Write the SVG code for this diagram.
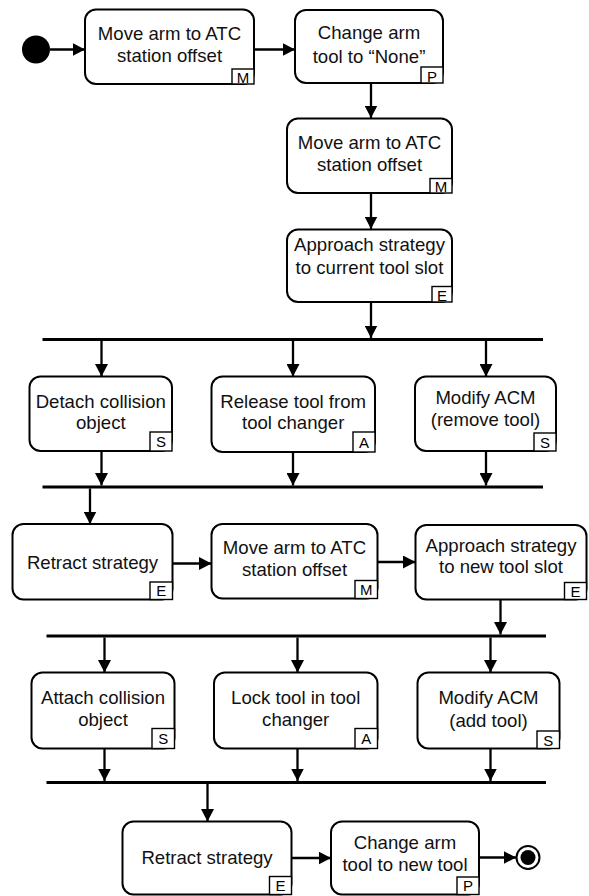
<svg xmlns="http://www.w3.org/2000/svg" width="589" height="896" viewBox="0 0 589 896">
  <style>
    .box { fill: #fff; stroke: #000; stroke-width: 2; }
    .badge { fill: #fff; stroke: #000; stroke-width: 1.4; }
    .lbl { font-family: "Liberation Sans", Arial, sans-serif; font-size: 18.6px; fill: #111; text-anchor: middle; }
    .tag { font-family: "Liberation Sans", Arial, sans-serif; font-size: 15px; fill: #000; text-anchor: middle; }
    .flow { stroke: #000; stroke-width: 2.3; fill: none; marker-end: url(#head); }
    .bar { stroke: #000; stroke-width: 3; }
  </style>
  <defs>
    <marker id="head" markerUnits="userSpaceOnUse" markerWidth="13" markerHeight="13" refX="12.5" refY="6.5" orient="auto">
      <path d="M0,0 L12.5,6.5 L0,13 z" fill="#000"/>
    </marker>
  </defs>

  <rect width="589" height="896" fill="#fff"/>

  <!-- connectors -->
  <g id="connectors">
    <line class="bar" x1="42.5" y1="339.5" x2="543" y2="339.5"/>
    <line class="bar" x1="42.5" y1="487" x2="543" y2="487"/>
    <line class="bar" x1="46.5" y1="636" x2="546" y2="636"/>
    <line class="bar" x1="46.5" y1="782.5" x2="546" y2="782.5"/>

    <line class="flow" x1="50" y1="49.5" x2="85" y2="49.5"/>
    <line class="flow" x1="254" y1="49.5" x2="295" y2="49.5"/>
    <line class="flow" x1="371" y1="83" x2="371" y2="118"/>
    <line class="flow" x1="371" y1="193" x2="371" y2="229"/>
    <line class="flow" x1="371" y1="302" x2="371" y2="338"/>

    <line class="flow" x1="101.5" y1="341" x2="101.5" y2="376.5"/>
    <line class="flow" x1="293" y1="341" x2="293" y2="376.5"/>
    <line class="flow" x1="486" y1="341" x2="486" y2="376.5"/>

    <line class="flow" x1="101.5" y1="451" x2="101.5" y2="485.5"/>
    <line class="flow" x1="293" y1="452" x2="293" y2="485.5"/>
    <line class="flow" x1="486" y1="451" x2="486" y2="485.5"/>

    <line class="flow" x1="90" y1="488.5" x2="90" y2="524"/>
    <line class="flow" x1="172.5" y1="563.5" x2="211.5" y2="563.5"/>
    <line class="flow" x1="377.5" y1="562" x2="415.5" y2="562"/>
    <line class="flow" x1="500.5" y1="599.5" x2="500.5" y2="634.5"/>

    <line class="flow" x1="104.5" y1="637.5" x2="104.5" y2="672.5"/>
    <line class="flow" x1="297.5" y1="637.5" x2="297.5" y2="672.5"/>
    <line class="flow" x1="490.5" y1="637.5" x2="490.5" y2="672.5"/>

    <line class="flow" x1="104.5" y1="748.5" x2="104.5" y2="781"/>
    <line class="flow" x1="297.5" y1="748.5" x2="297.5" y2="781"/>
    <line class="flow" x1="490.5" y1="748.5" x2="490.5" y2="781"/>

    <line class="flow" x1="207.5" y1="784" x2="207.5" y2="821.5"/>
    <line class="flow" x1="291.5" y1="858" x2="331" y2="858"/>
    <line class="flow" x1="479" y1="857.5" x2="516" y2="857.5"/>
  </g>

  <!-- start / end -->
  <g id="start"><circle cx="36" cy="49.5" r="14" fill="#000"/></g>
  <g id="end">
    <circle cx="528" cy="857.5" r="11.5" fill="#fff" stroke="#000" stroke-width="2"/>
    <circle cx="528" cy="857.5" r="7.5" fill="#000"/>
  </g>

  <!-- actions -->
  <g id="n1">
    <rect class="box" x="85" y="9.5" width="169" height="74.5" rx="11"/>
    <text class="lbl" x="169.5" y="40">Move arm to ATC</text>
    <text class="lbl" x="169.5" y="62">station offset</text>
    <rect class="badge" x="232" y="69" width="22" height="15"/>
    <text class="tag" x="243" y="82.5">M</text>
  </g>
  <g id="n2">
    <rect class="box" x="295" y="10" width="148" height="73" rx="11"/>
    <text class="lbl" x="369" y="39">Change arm</text>
    <text class="lbl" x="369" y="62.5">tool to “None”</text>
    <rect class="badge" x="421" y="67" width="22" height="16"/>
    <text class="tag" x="432" y="81.5">P</text>
  </g>
  <g id="n3">
    <rect class="box" x="287" y="118.5" width="165" height="74.5" rx="11"/>
    <text class="lbl" x="369.5" y="148.5">Move arm to ATC</text>
    <text class="lbl" x="369.5" y="170.5">station offset</text>
    <rect class="badge" x="430" y="178.5" width="22" height="14.5"/>
    <text class="tag" x="441" y="191.5">M</text>
  </g>
  <g id="n4">
    <rect class="box" x="287" y="229.5" width="165" height="72.5" rx="11"/>
    <text class="lbl" x="369.5" y="251">Approach strategy</text>
    <text class="lbl" x="369.5" y="274">to current tool slot</text>
    <rect class="badge" x="432" y="286.5" width="20" height="15.5"/>
    <text class="tag" x="442" y="300.5">E</text>
  </g>
  <g id="n5">
    <rect class="box" x="29.5" y="376.5" width="142.5" height="74.5" rx="11"/>
    <text class="lbl" x="100.8" y="407.5">Detach collision</text>
    <text class="lbl" x="100.8" y="428.5">object</text>
    <rect class="badge" x="150" y="432" width="22" height="19"/>
    <text class="tag" x="161" y="447">S</text>
  </g>
  <g id="n6">
    <rect class="box" x="211.5" y="376.5" width="163.5" height="75.5" rx="11"/>
    <text class="lbl" x="293.2" y="407.5">Release tool from</text>
    <text class="lbl" x="293.2" y="429">tool changer</text>
    <rect class="badge" x="353" y="432" width="22" height="20"/>
    <text class="tag" x="364" y="447.5">A</text>
  </g>
  <g id="n7">
    <rect class="box" x="415" y="376.5" width="141" height="74.5" rx="11"/>
    <text class="lbl" x="485.5" y="403.5">Modify ACM</text>
    <text class="lbl" x="485.5" y="426">(remove tool)</text>
    <rect class="badge" x="534" y="433" width="22" height="18"/>
    <text class="tag" x="545" y="447.5">S</text>
  </g>
  <g id="n8">
    <rect class="box" x="12.5" y="524" width="160" height="75.5" rx="11"/>
    <text class="lbl" x="92.5" y="568.5">Retract strategy</text>
    <rect class="badge" x="150" y="582" width="22.5" height="17.5"/>
    <text class="tag" x="161.2" y="596">E</text>
  </g>
  <g id="n9">
    <rect class="box" x="211.5" y="524" width="166" height="74.5" rx="11"/>
    <text class="lbl" x="294.5" y="554">Move arm to ATC</text>
    <text class="lbl" x="294.5" y="576">station offset</text>
    <rect class="badge" x="355" y="580.5" width="22.5" height="18"/>
    <text class="tag" x="366.2" y="595">M</text>
  </g>
  <g id="n10">
    <rect class="box" x="415.5" y="525" width="171" height="74.5" rx="11"/>
    <text class="lbl" x="501" y="551.5">Approach strategy</text>
    <text class="lbl" x="501" y="573">to new tool slot</text>
    <rect class="badge" x="564.5" y="582.5" width="22" height="17"/>
    <text class="tag" x="575.5" y="596.5">E</text>
  </g>
  <g id="n11">
    <rect class="box" x="31.5" y="672.5" width="143" height="76" rx="11"/>
    <text class="lbl" x="103" y="704">Attach collision</text>
    <text class="lbl" x="103" y="726">object</text>
    <rect class="badge" x="152" y="728.5" width="22.5" height="20"/>
    <text class="tag" x="163.2" y="744">S</text>
  </g>
  <g id="n12">
    <rect class="box" x="214" y="672.5" width="163.5" height="76" rx="11"/>
    <text class="lbl" x="295.7" y="704">Lock tool in tool</text>
    <text class="lbl" x="295.7" y="726">changer</text>
    <rect class="badge" x="355" y="728.5" width="22.5" height="20"/>
    <text class="tag" x="366.2" y="744">A</text>
  </g>
  <g id="n13">
    <rect class="box" x="417.5" y="672.5" width="142" height="76" rx="11"/>
    <text class="lbl" x="488.5" y="704">Modify ACM</text>
    <text class="lbl" x="488.5" y="726.5">(add tool)</text>
    <rect class="badge" x="537" y="731" width="22.5" height="17.5"/>
    <text class="tag" x="548.2" y="745.5">S</text>
  </g>
  <g id="n14">
    <rect class="box" x="122.5" y="821.5" width="169" height="73" rx="11"/>
    <text class="lbl" x="207" y="863.5">Retract strategy</text>
    <rect class="badge" x="269.5" y="876.5" width="22" height="18"/>
    <text class="tag" x="280.5" y="891">E</text>
  </g>
  <g id="n15">
    <rect class="box" x="331" y="821.5" width="148" height="73" rx="11"/>
    <text class="lbl" x="405" y="849">Change arm</text>
    <text class="lbl" x="405" y="871">tool to new tool</text>
    <rect class="badge" x="457" y="877" width="22" height="17.5"/>
    <text class="tag" x="468" y="891">P</text>
  </g>
</svg>
